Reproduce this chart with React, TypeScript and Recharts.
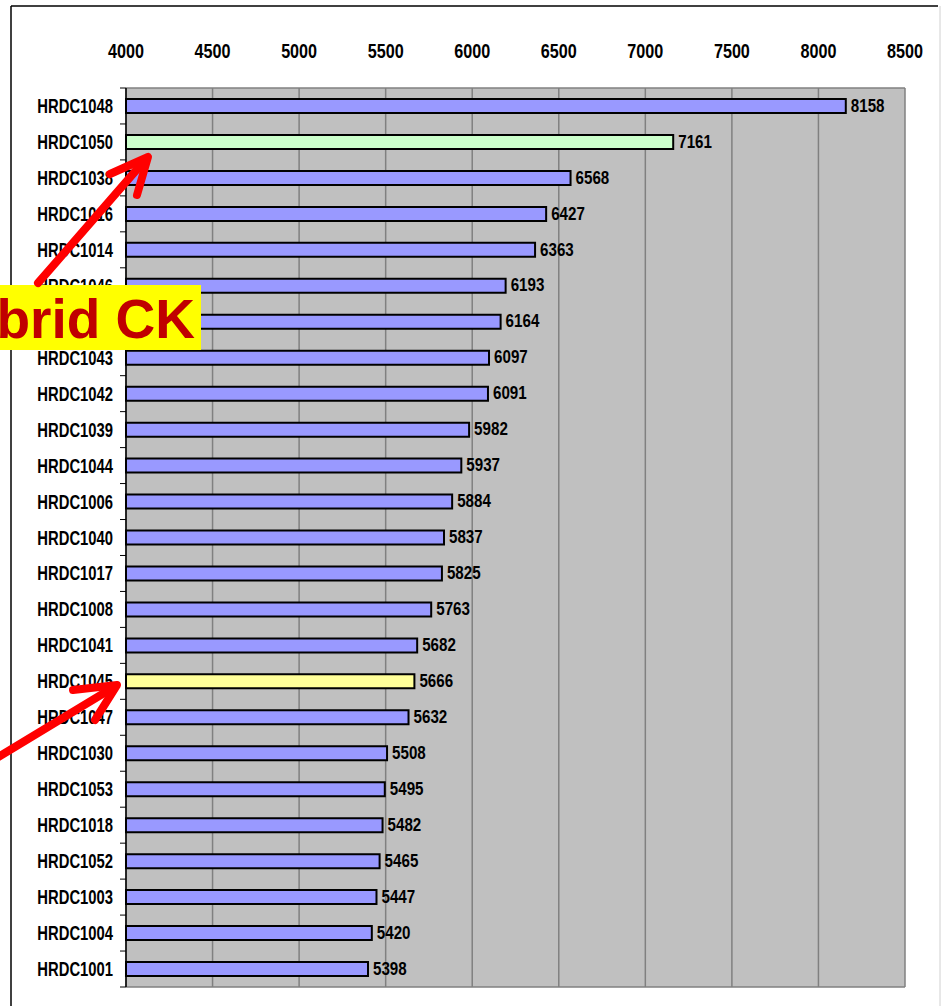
import React from 'react';
import { BarChart, Bar, XAxis, YAxis, CartesianGrid, Cell, LabelList } from 'recharts';

const categories = [
  'HRDC1048', 'HRDC1050', 'HRDC1038', 'HRDC1016', 'HRDC1014', 'HRDC1046', 'HRDC1051',
  'HRDC1043', 'HRDC1042', 'HRDC1039', 'HRDC1044', 'HRDC1006', 'HRDC1040', 'HRDC1017',
  'HRDC1008', 'HRDC1041', 'HRDC1045', 'HRDC1047', 'HRDC1030', 'HRDC1053', 'HRDC1018',
  'HRDC1052', 'HRDC1003', 'HRDC1004', 'HRDC1001',
];
const values = [
  8158, 7161, 6568, 6427, 6363, 6193, 6164,
  6097, 6091, 5982, 5937, 5884, 5837, 5825,
  5763, 5682, 5666, 5632, 5508, 5495, 5482,
  5465, 5447, 5420, 5398,
];
const xTicks = [4000, 4500, 5000, 5500, 6000, 6500, 7000, 7500, 8000, 8500];

const data = categories.map((name, i) => ({ name, value: values[i] }));

const W = 941;
const H = 1006;
const M = { top: 0, right: 36, bottom: 19, left: 0 };
const X_AXIS_H = 88;
const Y_AXIS_W = 126;
const PLOT_TOP = M.top + X_AXIS_H;
const PLOT_BOTTOM = H - M.bottom;
const BAND = (PLOT_BOTTOM - PLOT_TOP) / categories.length;

const BASE_FILL = '#9999FF';
const HIGHLIGHT: Record<string, string> = { HRDC1050: '#CCFFCC', HRDC1045: '#FFFF99' };
const FONT = '"Liberation Sans", Arial, sans-serif';

const YTick = (props: any) => {
  const { x, y, payload, index } = props;
  const last = index === categories.length - 1;
  return (
    <g>
      <line x1={x - 6} x2={x} y1={y - BAND / 2} y2={y - BAND / 2} stroke="#000" strokeWidth={1} />
      {last && <line x1={x - 6} x2={x} y1={y + BAND / 2} y2={y + BAND / 2} stroke="#000" strokeWidth={1} />}
      <text
        transform={`translate(${x - 13},${y}) scale(0.76,1)`}
        dy="0.36em"
        textAnchor="end"
        fontFamily={FONT}
        fontWeight="bold"
        fontSize={19.5}
        fill="#000"
      >
        {payload.value}
      </text>
    </g>
  );
};

const XTick = (props: any) => {
  const { x, payload } = props;
  return (
    <text
      transform={`translate(${x},58) scale(0.77,1)`}
      textAnchor="middle"
      fontFamily={FONT}
      fontWeight="bold"
      fontSize={21}
      fill="#000"
    >
      {payload.value}
    </text>
  );
};

const ValueLabel = (props: any) => {
  const { x, y, width, height, value } = props;
  return (
    <text
      transform={`translate(${x + width + 5},${y + height / 2 - 1}) scale(0.82,1)`}
      dy="0.36em"
      textAnchor="start"
      fontFamily={FONT}
      fontWeight="bold"
      fontSize={18.5}
      fill="#000"
    >
      {value}
    </text>
  );
};

export default function App() {
  return (
    <div style={{ position: 'absolute', left: 0, top: 0, width: W, height: H, background: '#fff' }}>
      <BarChart width={W} height={H} data={data} layout="vertical" margin={M} barSize={14}>
        <CartesianGrid
          fill="#C0C0C0"
          stroke="#808080"
          strokeWidth={1.5}
          horizontalPoints={[PLOT_TOP, PLOT_BOTTOM]}
        />
        <XAxis
          type="number"
          orientation="top"
          domain={[4000, 8500]}
          ticks={xTicks}
          height={X_AXIS_H}
          axisLine={false}
          tickLine={false}
          tick={<XTick />}
          interval={0}
        />
        <YAxis
          type="category"
          dataKey="name"
          width={Y_AXIS_W}
          axisLine={{ stroke: '#000', strokeWidth: 1.5 }}
          tickLine={false}
          tickSize={0}
          tickMargin={0}
          tick={<YTick />}
          interval={0}
        />
        <Bar dataKey="value" stroke="#000" strokeWidth={2} isAnimationActive={false}>
          {data.map((d) => (
            <Cell key={d.name} fill={HIGHLIGHT[d.name] || BASE_FILL} />
          ))}
          <LabelList dataKey="value" content={<ValueLabel />} />
        </Bar>
      </BarChart>
      <svg width={W} height={H} style={{ position: 'absolute', left: 0, top: 0, pointerEvents: 'none' }}>
        <line x1={11} y1={6} x2={11} y2={H} stroke="#000" strokeWidth={1.5} />
        <line x1={11} y1={6} x2={938} y2={6} stroke="#000" strokeWidth={1.5} />
        <line x1={940} y1={6} x2={940} y2={H} stroke="#D0D0D0" strokeWidth={1} />
        <rect x={-60} y={285} width={261} height={65} fill="#FFFF00" />
        <text x={195} y={338} textAnchor="end" fontFamily={FONT} fontWeight="bold" fontSize={55} fill="#C00000">
          Hybrid CK
        </text>
        <g stroke="#FF0000" strokeWidth={8} strokeLinecap="round" fill="none">
          <line x1={38} y1={283} x2={146} y2={159} />
          <polyline points="110,174 148,157 137,195" strokeLinejoin="round" />
          <line x1={-10} y1={762} x2={114} y2={687} />
          <polyline points="73,690 117,685 95,720" strokeLinejoin="round" />
        </g>
      </svg>
    </div>
  );
}
